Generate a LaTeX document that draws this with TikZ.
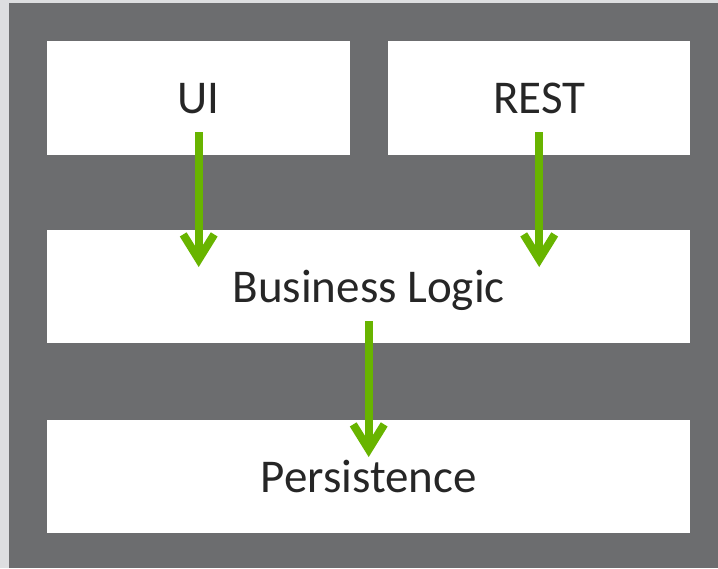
\documentclass[tikz,border=0pt]{standalone}
\usepackage{fontspec}
\setmainfont{Carlito}
\usepackage{xcolor}
\usepackage{tikz}
\usetikzlibrary{arrows.meta}
\definecolor{panelgray}{RGB}{108,109,111}
\definecolor{edgegray}{RGB}{221,222,224}
\definecolor{flowgreen}{RGB}{104,180,0}
\definecolor{textdark}{RGB}{38,38,38}
\tikzset{
	layer/.style={fill=white, inner sep=0pt, anchor=north west, text=textdark, text depth=0pt, font=\fontsize{47}{56}\selectfont},
	flow/.style={draw=flowgreen, line width=8pt, -{Straight Barb[length=25pt, width=31pt]}}
}
\begin{document}
\begin{tikzpicture}[x=1pt, y=-1pt]
			\fill [edgegray] (0, 0) rectangle (718, 568);
			\fill [panelgray] (9, 3) rectangle (718, 568);
			\node[layer, minimum width=303pt, minimum height=114pt] (ui) at (47, 41) {UI};
			\node[layer, minimum width=302pt, minimum height=114pt] (rest) at (388, 41) {REST};
			\node[layer, minimum width=643pt, minimum height=113pt] (logic) at (47, 230) {Business Logic};
			\node[layer, minimum width=643pt, minimum height=113pt] (store) at (47, 420) {Persistence};
			\draw [flow] ([yshift=23pt]ui.south) -- ([yshift=-37pt]ui.south |- logic.north);
			\draw [flow] ([yshift=23pt]rest.south) -- ([yshift=-37pt]rest.south |- logic.north);
			\draw [flow] ([yshift=22pt]logic.south) -- ([yshift=-37pt]logic.south |- store.north);
		\end{tikzpicture}
\end{document}
